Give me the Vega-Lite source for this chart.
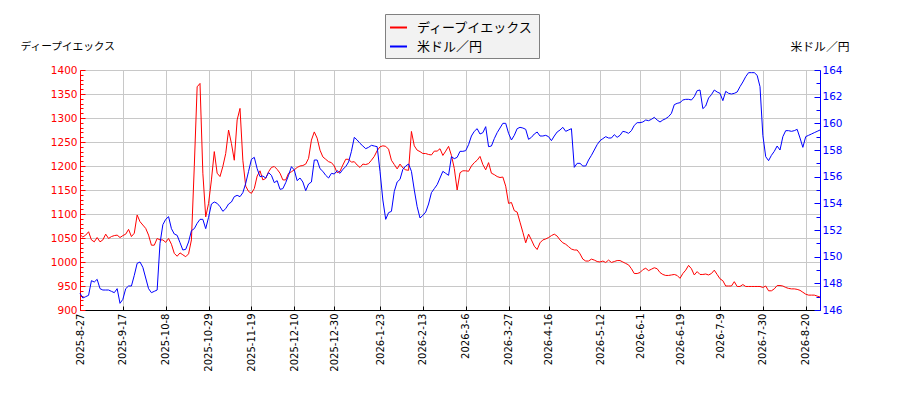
{
"$schema": "https://vega.github.io/schema/vega-lite/v6.json",
"width": 740, "height": 240,
"autosize": {"type": "none"},
"padding": {"left": 80, "top": 70, "right": 80, "bottom": 90},
"background": "white",
"config": {"view": {"stroke": null}, "axis": {"labelFont": "DejaVu Sans"}},
"data": {"values": [
{"date":"2025-8-27","dx":1057,"usd":147.25},{"date":"2025-8-28","dx":1052,"usd":146.9},{"date":"2025-8-29","dx":1056,"usd":147.0},
{"date":"2025-9-1","dx":1063,"usd":147.1},{"date":"2025-9-2","dx":1046,"usd":148.2},{"date":"2025-9-3","dx":1042,"usd":148.1},{"date":"2025-9-4","dx":1051,"usd":148.3},{"date":"2025-9-5","dx":1042,"usd":147.6},
{"date":"2025-9-8","dx":1046,"usd":147.5},{"date":"2025-9-9","dx":1058,"usd":147.5},{"date":"2025-9-10","dx":1049,"usd":147.5},{"date":"2025-9-11","dx":1053,"usd":147.4},{"date":"2025-9-12","dx":1055,"usd":147.3},
{"date":"2025-9-15","dx":1056,"usd":147.6},{"date":"2025-9-16","dx":1051,"usd":146.5},{"date":"2025-9-17","dx":1055,"usd":146.8},{"date":"2025-9-18","dx":1058,"usd":147.6},{"date":"2025-9-19","dx":1068,"usd":147.8},
{"date":"2025-9-22","dx":1053,"usd":147.8},{"date":"2025-9-23","dx":1060,"usd":148.6},{"date":"2025-9-24","dx":1098,"usd":149.5},{"date":"2025-9-25","dx":1084,"usd":149.6},{"date":"2025-9-26","dx":1077,"usd":149.2},
{"date":"2025-9-29","dx":1070,"usd":148.4},{"date":"2025-9-30","dx":1056,"usd":147.6},{"date":"2025-10-1","dx":1035,"usd":147.3},{"date":"2025-10-2","dx":1035,"usd":147.4},{"date":"2025-10-3","dx":1049,"usd":147.5},
{"date":"2025-10-6","dx":1046,"usd":151.0},{"date":"2025-10-7","dx":1046,"usd":152.4},{"date":"2025-10-8","dx":1041,"usd":152.8},{"date":"2025-10-9","dx":1049,"usd":153.0},{"date":"2025-10-10","dx":1037,"usd":152.1},
{"date":"2025-10-13","dx":1018,"usd":151.7},{"date":"2025-10-14","dx":1012,"usd":151.6},{"date":"2025-10-15","dx":1019,"usd":151.05},{"date":"2025-10-16","dx":1015,"usd":150.5},{"date":"2025-10-17","dx":1011,"usd":150.55},
{"date":"2025-10-20","dx":1017,"usd":151.1},{"date":"2025-10-21","dx":1046,"usd":151.95},{"date":"2025-10-22","dx":1199,"usd":152.1},{"date":"2025-10-23","dx":1365,"usd":152.5},{"date":"2025-10-24","dx":1372,"usd":152.8},
{"date":"2025-10-27","dx":1185,"usd":152.8},{"date":"2025-10-28","dx":1094,"usd":152.1},{"date":"2025-10-29","dx":1122,"usd":152.95},{"date":"2025-10-30","dx":1171,"usd":153.95},{"date":"2025-10-31","dx":1230,"usd":154.1},
{"date":"2025-11-3","dx":1185,"usd":154.0},{"date":"2025-11-4","dx":1178,"usd":153.75},{"date":"2025-11-5","dx":1199,"usd":153.4},{"date":"2025-11-6","dx":1226,"usd":153.6},{"date":"2025-11-7","dx":1275,"usd":153.95},
{"date":"2025-11-10","dx":1247,"usd":154.1},{"date":"2025-11-11","dx":1212,"usd":154.5},{"date":"2025-11-12","dx":1296,"usd":154.6},{"date":"2025-11-13","dx":1320,"usd":154.5},{"date":"2025-11-14","dx":1212,"usd":154.8},
{"date":"2025-11-17","dx":1158,"usd":155.5},{"date":"2025-11-18","dx":1147,"usd":156.4},{"date":"2025-11-19","dx":1143,"usd":157.3},{"date":"2025-11-20","dx":1153,"usd":157.45},{"date":"2025-11-21","dx":1179,"usd":156.6},
{"date":"2025-11-24","dx":1190,"usd":156.0},{"date":"2025-11-25","dx":1171,"usd":156.05},{"date":"2025-11-26","dx":1174,"usd":155.9},{"date":"2025-11-27","dx":1188,"usd":156.3},{"date":"2025-11-28","dx":1197,"usd":156.1},
{"date":"2025-12-1","dx":1199,"usd":155.55},{"date":"2025-12-2","dx":1193,"usd":155.7},{"date":"2025-12-3","dx":1185,"usd":155.05},{"date":"2025-12-4","dx":1171,"usd":155.1},{"date":"2025-12-5","dx":1171,"usd":155.55},
{"date":"2025-12-8","dx":1185,"usd":156.1},{"date":"2025-12-9","dx":1188,"usd":156.75},{"date":"2025-12-10","dx":1192,"usd":156.5},{"date":"2025-12-11","dx":1197,"usd":155.7},{"date":"2025-12-12","dx":1200,"usd":155.9},
{"date":"2025-12-15","dx":1201,"usd":155.6},{"date":"2025-12-16","dx":1204,"usd":154.95},{"date":"2025-12-17","dx":1216,"usd":155.45},{"date":"2025-12-18","dx":1254,"usd":155.6},{"date":"2025-12-19","dx":1271,"usd":157.25},
{"date":"2025-12-22","dx":1258,"usd":157.25},{"date":"2025-12-23","dx":1233,"usd":156.6},{"date":"2025-12-24","dx":1219,"usd":156.4},{"date":"2025-12-25","dx":1214,"usd":156.1},{"date":"2025-12-26","dx":1209,"usd":155.9},
{"date":"2025-12-29","dx":1207,"usd":156.25},{"date":"2025-12-30","dx":1200,"usd":156.2},{"date":"2025-12-31","dx":1186,"usd":156.45},
{"date":"2026-1-5","dx":1189,"usd":156.25},{"date":"2026-1-6","dx":1202,"usd":156.55},{"date":"2026-1-7","dx":1214,"usd":156.75},{"date":"2026-1-8","dx":1214,"usd":157.1},{"date":"2026-1-9","dx":1208,"usd":157.9},
{"date":"2026-1-12","dx":1209,"usd":158.95},{"date":"2026-1-13","dx":1202,"usd":158.75},{"date":"2026-1-14","dx":1197,"usd":158.5},{"date":"2026-1-15","dx":1204,"usd":158.3},{"date":"2026-1-16","dx":1203,"usd":158.1},
{"date":"2026-1-19","dx":1205,"usd":158.2},{"date":"2026-1-20","dx":1212,"usd":158.35},{"date":"2026-1-21","dx":1220,"usd":158.3},{"date":"2026-1-22","dx":1232,"usd":158.25},{"date":"2026-1-23","dx":1240,"usd":156.4},
{"date":"2026-1-26","dx":1242,"usd":154.25},{"date":"2026-1-27","dx":1241,"usd":152.8},{"date":"2026-1-28","dx":1235,"usd":153.3},{"date":"2026-1-29","dx":1212,"usd":153.4},{"date":"2026-1-30","dx":1203,"usd":154.9},
{"date":"2026-2-2","dx":1194,"usd":155.6},{"date":"2026-2-3","dx":1204,"usd":155.8},{"date":"2026-2-4","dx":1196,"usd":156.55},{"date":"2026-2-5","dx":1192,"usd":156.8},{"date":"2026-2-6","dx":1191,"usd":156.95},
{"date":"2026-2-9","dx":1272,"usd":156.4},{"date":"2026-2-10","dx":1242,"usd":155.0},{"date":"2026-2-11","dx":1233,"usd":153.75},{"date":"2026-2-12","dx":1230,"usd":152.9},{"date":"2026-2-13","dx":1226,"usd":153.1},
{"date":"2026-2-16","dx":1226,"usd":153.35},{"date":"2026-2-17","dx":1224,"usd":153.95},{"date":"2026-2-18","dx":1223,"usd":154.8},{"date":"2026-2-19","dx":1231,"usd":155.1},{"date":"2026-2-20","dx":1231,"usd":155.4},
{"date":"2026-2-23","dx":1236,"usd":155.9},{"date":"2026-2-24","dx":1222,"usd":156.4},{"date":"2026-2-25","dx":1231,"usd":156.25},{"date":"2026-2-26","dx":1241,"usd":156.1},{"date":"2026-2-27","dx":1222,"usd":157.5},
{"date":"2026-3-2","dx":1195,"usd":157.35},{"date":"2026-3-3","dx":1150,"usd":157.45},{"date":"2026-3-4","dx":1186,"usd":157.9},{"date":"2026-3-5","dx":1190,"usd":157.9},{"date":"2026-3-6","dx":1190,"usd":157.95},
{"date":"2026-3-9","dx":1189,"usd":158.4},{"date":"2026-3-10","dx":1200,"usd":159.05},{"date":"2026-3-11","dx":1207,"usd":159.4},{"date":"2026-3-12","dx":1212,"usd":159.6},{"date":"2026-3-13","dx":1220,"usd":159.2},
{"date":"2026-3-16","dx":1203,"usd":159.3},{"date":"2026-3-17","dx":1192,"usd":159.75},{"date":"2026-3-18","dx":1207,"usd":158.25},{"date":"2026-3-19","dx":1185,"usd":158.3},{"date":"2026-3-20","dx":1182,"usd":158.85},
{"date":"2026-3-23","dx":1178,"usd":159.3},{"date":"2026-3-24","dx":1176,"usd":159.65},{"date":"2026-3-25","dx":1177,"usd":160.0},{"date":"2026-3-26","dx":1158,"usd":160.0},{"date":"2026-3-27","dx":1122,"usd":159.25},
{"date":"2026-3-30","dx":1124,"usd":158.75},{"date":"2026-3-31","dx":1107,"usd":159.1},{"date":"2026-4-1","dx":1104,"usd":159.6},{"date":"2026-4-2","dx":1083,"usd":159.7},{"date":"2026-4-3","dx":1062,"usd":159.65},
{"date":"2026-4-6","dx":1040,"usd":159.55},{"date":"2026-4-7","dx":1058,"usd":158.8},{"date":"2026-4-8","dx":1046,"usd":158.95},{"date":"2026-4-9","dx":1033,"usd":159.2},{"date":"2026-4-10","dx":1026,"usd":159.35},
{"date":"2026-4-13","dx":1040,"usd":159.05},{"date":"2026-4-14","dx":1046,"usd":159.05},{"date":"2026-4-15","dx":1048,"usd":159.1},{"date":"2026-4-16","dx":1051,"usd":159.0},{"date":"2026-4-17","dx":1055,"usd":158.7},
{"date":"2026-4-20","dx":1058,"usd":159.05},{"date":"2026-4-21","dx":1054,"usd":159.35},{"date":"2026-4-22","dx":1046,"usd":159.5},{"date":"2026-4-23","dx":1040,"usd":159.7},{"date":"2026-4-24","dx":1037,"usd":159.4},
{"date":"2026-4-27","dx":1032,"usd":159.5},{"date":"2026-4-28","dx":1027,"usd":159.6},{"date":"2026-4-29","dx":1025,"usd":156.7},{"date":"2026-4-30","dx":1025,"usd":157.0},{"date":"2026-5-1","dx":1017,"usd":157.0},
{"date":"2026-5-4","dx":1006,"usd":156.8},{"date":"2026-5-5","dx":1002,"usd":156.8},{"date":"2026-5-6","dx":1002,"usd":157.25},{"date":"2026-5-7","dx":1006,"usd":157.6},{"date":"2026-5-8","dx":1004,"usd":158.0},
{"date":"2026-5-11","dx":1001,"usd":158.4},{"date":"2026-5-12","dx":1000,"usd":158.7},{"date":"2026-5-13","dx":1002,"usd":158.85},{"date":"2026-5-14","dx":999,"usd":159.0},{"date":"2026-5-15","dx":1004,"usd":158.9},
{"date":"2026-5-18","dx":999,"usd":158.9},{"date":"2026-5-19","dx":1001,"usd":159.15},{"date":"2026-5-20","dx":1003,"usd":158.95},{"date":"2026-5-21","dx":1003,"usd":159.1},{"date":"2026-5-22","dx":1000,"usd":159.4},
{"date":"2026-5-25","dx":997,"usd":159.35},{"date":"2026-5-26","dx":994,"usd":159.25},{"date":"2026-5-27","dx":986,"usd":159.45},{"date":"2026-5-28","dx":976,"usd":159.85},{"date":"2026-5-29","dx":976,"usd":160.05},
{"date":"2026-6-1","dx":978,"usd":160.05},{"date":"2026-6-2","dx":984,"usd":160.1},{"date":"2026-6-3","dx":987,"usd":160.25},{"date":"2026-6-4","dx":982,"usd":160.2},{"date":"2026-6-5","dx":985,"usd":160.3},
{"date":"2026-6-8","dx":988,"usd":160.45},{"date":"2026-6-9","dx":986,"usd":160.25},{"date":"2026-6-10","dx":978,"usd":160.1},{"date":"2026-6-11","dx":974,"usd":160.25},{"date":"2026-6-12","dx":972,"usd":160.35},
{"date":"2026-6-15","dx":972,"usd":160.5},{"date":"2026-6-16","dx":973,"usd":160.75},{"date":"2026-6-17","dx":974,"usd":161.4},{"date":"2026-6-18","dx":972,"usd":161.5},{"date":"2026-6-19","dx":966,"usd":161.55},
{"date":"2026-6-22","dx":976,"usd":161.75},{"date":"2026-6-23","dx":983,"usd":161.8},{"date":"2026-6-24","dx":993,"usd":161.8},{"date":"2026-6-25","dx":986,"usd":161.75},{"date":"2026-6-26","dx":973,"usd":162.0},
{"date":"2026-6-29","dx":980,"usd":162.45},{"date":"2026-6-30","dx":974,"usd":162.5},{"date":"2026-7-1","dx":974,"usd":161.1},{"date":"2026-7-2","dx":975,"usd":161.3},{"date":"2026-7-3","dx":973,"usd":161.9},
{"date":"2026-7-6","dx":976,"usd":162.15},{"date":"2026-7-7","dx":983,"usd":162.5},{"date":"2026-7-8","dx":974,"usd":162.35},{"date":"2026-7-9","dx":965,"usd":162.25},{"date":"2026-7-10","dx":961,"usd":161.7},
{"date":"2026-7-13","dx":950,"usd":162.4},{"date":"2026-7-14","dx":950,"usd":162.25},{"date":"2026-7-15","dx":950,"usd":162.2},{"date":"2026-7-16","dx":959,"usd":162.25},{"date":"2026-7-17","dx":949,"usd":162.35},
{"date":"2026-7-20","dx":949,"usd":162.75},{"date":"2026-7-21","dx":953,"usd":163.1},{"date":"2026-7-22","dx":949,"usd":163.5},{"date":"2026-7-23","dx":949,"usd":163.8},{"date":"2026-7-24","dx":949,"usd":163.8},
{"date":"2026-7-27","dx":949,"usd":163.8},{"date":"2026-7-28","dx":949,"usd":163.6},{"date":"2026-7-29","dx":949,"usd":162.75},{"date":"2026-7-30","dx":947,"usd":159.1},{"date":"2026-7-31","dx":950,"usd":157.5},
{"date":"2026-8-3","dx":940,"usd":157.2},{"date":"2026-8-4","dx":940,"usd":157.6},{"date":"2026-8-5","dx":944,"usd":157.9},{"date":"2026-8-6","dx":951,"usd":158.3},{"date":"2026-8-7","dx":951,"usd":158.0},
{"date":"2026-8-10","dx":950,"usd":159.0},{"date":"2026-8-11","dx":947,"usd":159.45},{"date":"2026-8-12","dx":945,"usd":159.45},{"date":"2026-8-13","dx":944,"usd":159.4},{"date":"2026-8-14","dx":944,"usd":159.45},
{"date":"2026-8-17","dx":943,"usd":159.55},{"date":"2026-8-18","dx":941,"usd":158.9},{"date":"2026-8-19","dx":937,"usd":158.2},{"date":"2026-8-20","dx":933,"usd":159.0},{"date":"2026-8-21","dx":931,"usd":159.1},
{"date":"2026-8-24","dx":931,"usd":159.2},{"date":"2026-8-25","dx":931,"usd":159.3},{"date":"2026-8-26","dx":929,"usd":159.4},{"date":"2026-8-27","dx":927,"usd":159.5}
]},
"encoding": {
  "x": {"field": "date", "type": "ordinal", "sort": null, "scale": {"type": "point", "padding": 0},
    "axis": {"title": null, "values": ["2025-8-27","2025-9-17","2025-10-8","2025-10-29","2025-11-19","2025-12-10","2025-12-30","2026-1-23","2026-2-13","2026-3-6","2026-3-27","2026-4-16","2026-5-12","2026-6-1","2026-6-19","2026-7-9","2026-7-30","2026-8-20"],
      "labelAngle": -90, "labelFontSize": 10, "labelColor": "#000000", "domainColor": "#000000", "tickColor": "#000000", "tickSize": -4, "labelPadding": 7,
      "grid": true, "gridColor": "#c8c8c8", "labelOverlap": false}}
},
"layer": [
  {"mark": {"type": "line", "strokeWidth": 1},
   "encoding": {
     "y": {"field": "dx", "type": "quantitative", "scale": {"domain": [900, 1400], "zero": false, "nice": false},
       "axis": {"title": "ディープイエックス", "titleAngle": 0, "titleX": -60, "titleY": -24, "titleAlign": "left", "titleBaseline": "middle",
         "titleFont": "Noto Sans CJK JP", "titleFontSize": 10.7, "titleFontWeight": "normal", "titleColor": "#000000",
         "values": [900,910,920,930,940,950,960,970,980,990,1000,1010,1020,1030,1040,1050,1060,1070,1080,1090,1100,1110,1120,1130,1140,1150,1160,1170,1180,1190,1200,1210,1220,1230,1240,1250,1260,1270,1280,1290,1300,1310,1320,1330,1340,1350,1360,1370,1380,1390,1400],
         "format": "d", "labelExpr": "datum.value % 50 === 0 ? datum.label : ''", "labelOverlap": false,
         "labelColor": "#ff0000", "labelFontSize": 10.5, "domainColor": "#ff0000", "tickColor": "#ff0000", "labelPadding": 8,
         "tickSize": {"condition": {"test": "datum.value % 50 === 0", "value": -5}, "value": -3},
         "grid": true, "gridColor": "#c8c8c8",
         "gridOpacity": {"condition": {"test": "datum.value % 50 === 0", "value": 1}, "value": 0}}},
     "color": {"datum": "ディープイエックス", "type": "nominal",
       "scale": {"domain": ["ディープイエックス", "米ドル／円"], "range": ["#ff0000", "#0000ff"]},
       "legend": {"title": null, "orient": "none", "legendX": 305, "legendY": -56, "fillColor": "#f2f2f2", "strokeColor": "#808080",
         "padding": 4, "symbolType": "stroke", "symbolSize": 289, "symbolStrokeWidth": 2, "labelFont": "Noto Sans CJK JP",
         "labelFontSize": 13, "labelColor": "#000000", "labelOffset": 9, "rowPadding": 2, "labelLimit": 300}}
   }},
  {"mark": {"type": "line", "strokeWidth": 1},
   "encoding": {
     "y": {"field": "usd", "type": "quantitative", "scale": {"domain": [146, 164], "zero": false, "nice": false},
       "axis": {"orient": "right", "title": "米ドル／円", "titleAngle": 0, "titleX": 29, "titleY": -24, "titleAlign": "right", "titleBaseline": "middle",
         "titleFont": "Noto Sans CJK JP", "titleFontSize": 11.8, "titleFontWeight": "normal", "titleColor": "#000000",
         "values": [146,147,148,149,150,151,152,153,154,155,156,157,158,159,160,161,162,163,164],
         "format": "d", "labelExpr": "datum.value % 2 === 0 ? datum.label : ''", "labelOverlap": false,
         "labelColor": "#0000ff", "labelFontSize": 10.5, "domainColor": "#0000ff", "tickColor": "#0000ff", "labelPadding": 8,
         "tickSize": {"condition": {"test": "datum.value % 2 === 0", "value": -6}, "value": -4},
         "grid": false}},
     "color": {"datum": "米ドル／円", "type": "nominal"}
   }}
],
"resolve": {"scale": {"y": "independent"}}
}
